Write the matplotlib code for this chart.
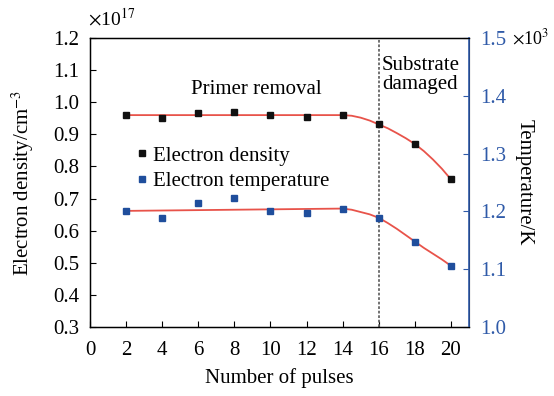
import numpy as np
import matplotlib
matplotlib.use('Agg')
import matplotlib.pyplot as plt
from matplotlib.lines import Line2D

plt.rcParams['font.family'] = ['Liberation Serif', 'DejaVu Serif']
plt.rcParams['mathtext.fontset'] = 'stix'

pulses = [2, 4, 6, 8, 10, 12, 14, 16, 18, 20]
density = [0.960, 0.950, 0.965, 0.970, 0.960, 0.955, 0.960, 0.931, 0.870, 0.760]
temperature = [1.201, 1.189, 1.214, 1.224, 1.200, 1.198, 1.204, 1.189, 1.147, 1.106]

# fitted curves
fit_x = [2, 14, 14.5, 15, 15.5, 16, 16.5, 17, 17.5, 18, 18.5, 19, 19.5, 20]
density_fit = [0.960, 0.960, 0.958, 0.952, 0.943, 0.931, 0.919, 0.904,
               0.888, 0.870, 0.848, 0.822, 0.793, 0.760]
temperature_fit = [1.201, 1.205, 1.203, 1.199, 1.195, 1.189, 1.180, 1.170,
                   1.159, 1.148, 1.137, 1.127, 1.117, 1.106]

xticks = list(range(0, 21, 2))
left_ticks = [0.3, 0.4, 0.5, 0.6, 0.7, 0.8, 0.9, 1.0, 1.1, 1.2]
right_ticks = [1.0, 1.1, 1.2, 1.3, 1.4, 1.5]
blue = '#2f5aa8'
red = '#e8534a'

fig = plt.figure(figsize=(5.54, 3.96), dpi=100)
ax = fig.add_axes([0.1625, 0.174, 0.684, 0.730])
ax2 = ax.twinx()

ax.plot(fit_x, density_fit, color=red, lw=1.3, zorder=2)
ax.plot(pulses, density, 's', color='#111111', ms=4.5, zorder=3)
ax2.plot(fit_x, temperature_fit, color=red, lw=1.3, zorder=2)
ax2.plot(pulses, temperature, 's', color='#1f4e9c', ms=4.5, zorder=3)

ax.axvline(16, color='#666666', ls=(0, (1.5, 1)), lw=1.3)

ax.set_xlim(0, 21)
ax.set_ylim(0.3, 1.2)
ax2.set_ylim(1.0, 1.5)
ax.set_xticks(xticks)
ax.set_yticks(left_ticks)
ax.set_yticklabels([f'{v:.1f}' for v in left_ticks])
ax2.set_yticks(right_ticks)
ax2.set_yticklabels([f'{v:.1f}' for v in right_ticks])

ax.tick_params(axis='both', direction='in', labelsize=15, length=4, pad=8)
ax.tick_params(axis='x', pad=10)
ax2.tick_params(axis='y', direction='in', labelsize=15, length=4, pad=8,
                colors=blue)
ax2.spines['right'].set_color(blue)
ax2.spines['right'].set_linewidth(1.2)
for s in ['left', 'top', 'bottom']:
    ax.spines[s].set_linewidth(1.0)

ax.set_xlabel('Number of pulses', fontsize=15, labelpad=6)
ax.set_ylabel('Electron density/cm$^{-3}$', fontsize=15, labelpad=12)
ax2.set_ylabel('Temperature/K', fontsize=15, rotation=270, labelpad=20)

ax.text(-0.005, 1.03, r'$\times$10$^{17}$', transform=ax.transAxes, fontsize=14,
        ha='left', va='bottom')
ax.text(1.113, 1.0, r'$\times$10$^{3}$', transform=ax.transAxes, fontsize=13,
        ha='left', va='center')

ax.text(9.2, 1.04, 'Primer removal', fontsize=15, ha='center', va='center')
ax.text(18.3, 1.085, 'Substrate\ndamaged', fontsize=15, ha='center', va='center',
        linespacing=1.0)

handles = [Line2D([], [], marker='s', ls='', color='#111111', ms=4),
           Line2D([], [], marker='s', ls='', color='#1f4e9c', ms=4)]
ax.legend(handles, ['Electron density', 'Electron temperature'],
          loc='upper left', bbox_to_anchor=(0.105, 0.655), frameon=False,
          fontsize=15, handlelength=0.4, handletextpad=0.3, labelspacing=0.3,
          borderaxespad=0)

fig.savefig('out.png', dpi=100)
